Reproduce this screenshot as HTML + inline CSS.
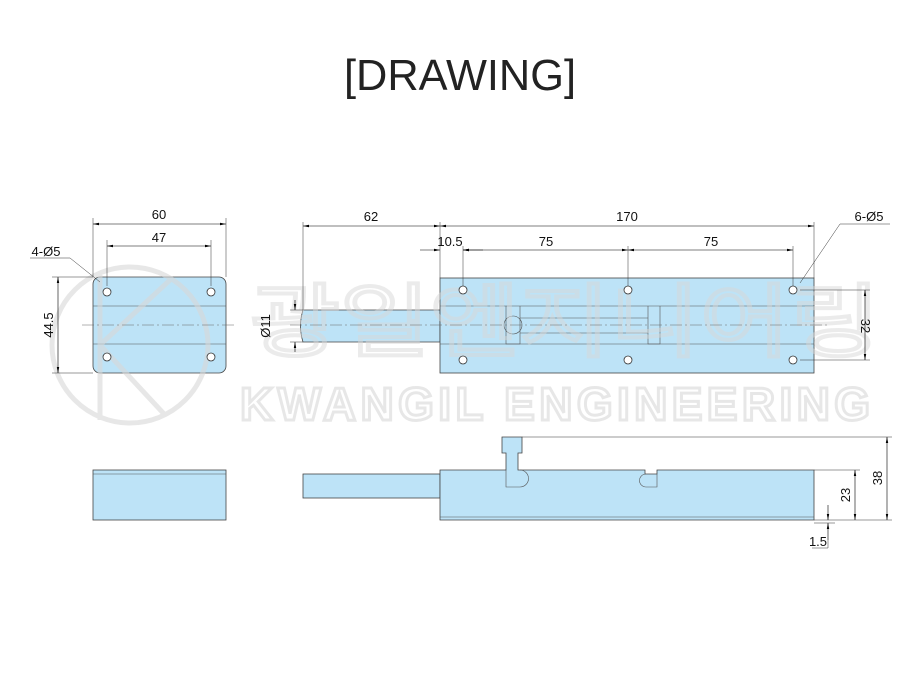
<!DOCTYPE html>
<html><head><style>body{margin:0;background:#fff}svg{display:block}</style></head><body>
<svg width="921" height="700" viewBox="0 0 921 700" xmlns="http://www.w3.org/2000/svg" font-family="Liberation Sans, sans-serif">
<defs><marker id="a" viewBox="0 0 10 6" refX="10" refY="3" markerWidth="10" markerHeight="6" orient="auto-start-reverse"><path d="M0,1 L10,3 L0,5z" fill="#000"/></marker></defs>
<text x="460" y="90" font-size="44" text-anchor="middle" fill="#222" textLength="232" lengthAdjust="spacingAndGlyphs">[DRAWING]</text>
<g stroke="#444" stroke-width="0.8" fill="#bde3f7">
<rect x="93" y="277" width="133" height="96" rx="7"/>
<path d="M303 310 H440 V342 H303 Q298 326 303 310z"/>
<rect x="440" y="278" width="374" height="95"/>
<rect x="93" y="470" width="133" height="50"/>
<rect x="303" y="474" width="137" height="24"/>
<path d="M440 470 H506 V453 H502 V437 H522 V453 H518 V470 H645 V474 H657 V470 H814 V520 H440z"/>
</g>
<g stroke="#555" stroke-width="0.6" fill="none">
<path d="M93 306H226M93 344H226M440 306H814M440 344H814M93 474H226M440 517H814"/>
<path d="M506 306V344H520V306M648 306V344H660V306M520 318H648V333H520"/>
<circle cx="513" cy="325" r="9"/>
<path d="M506 470V487H520M520 470a8.5 8.5 0 0 1 0 17M657 474V487H646M646 474a6.5 6.5 0 0 0 0 13"/>
</g>
<!-- watermark -->
<g fill="none" stroke="#d8d8d8" stroke-width="5" opacity="0.6">
<circle cx="130" cy="345" r="78"/>
<path d="M100 275 V420 M100 345 L170 280 M100 345 L165 415"/>
</g>
<text x="240" y="420" font-size="46" font-weight="bold" fill="none" stroke="#d8d8d8" stroke-width="3" opacity="0.6" textLength="630">KWANGIL ENGINEERING</text>
<text x="250" y="350" font-size="80" fill="none" stroke="#d8d8d8" stroke-width="4" opacity="0.5" font-family="Noto Sans CJK KR, sans-serif" textLength="630" lengthAdjust="spacingAndGlyphs">광일엔지니어링</text>
<g fill="#fff" stroke="#333" stroke-width="0.8">
<circle cx="107" cy="292" r="4"/><circle cx="211" cy="292" r="4"/><circle cx="107" cy="357" r="4"/><circle cx="211" cy="357" r="4"/>
<circle cx="463" cy="290" r="4"/><circle cx="628" cy="290" r="4"/><circle cx="793" cy="290" r="4"/>
<circle cx="463" cy="360" r="4"/><circle cx="628" cy="360" r="4"/><circle cx="793" cy="360" r="4"/>
</g>
<g stroke="#666" stroke-width="0.5" stroke-dasharray="12 3 2 3" fill="none">
<path d="M82 325H236M290 325H830"/>
</g>
<g stroke="#333" stroke-width="0.5" fill="none">
<path d="M93 277V218M226 277V218M107 286V240M211 286V240M93 277H52M93 373H52"/>
<path d="M303 310V222M440 278V222M814 278V222M463 286V246M628 286V246M793 286V246"/>
<path d="M800 290H870M800 360H870"/>
<path d="M522 437H892M814 470H860M814 520H892M814 523H835"/>
<path d="M70 258H30M70 258L100 282M840 224H890M840 224L800 283"/>
<path d="M303 310H290M303 342H290"/>
</g>
<g stroke="#000" stroke-width="0.6" fill="none" marker-start="url(#a)" marker-end="url(#a)">
<path d="M93 224H226"/><path d="M107 246H211"/><path d="M58 277V373"/>
<path d="M303 226H440"/><path d="M440 226H814"/>
<path d="M463 250H628"/><path d="M628 250H793"/>
<path d="M865 290V360"/><path d="M887 437V520"/><path d="M855 470V520"/>
</g>
<g stroke="#000" stroke-width="0.6" fill="none" marker-end="url(#a)">
<path d="M420 250H440"/><path d="M483 250H463"/>
<path d="M295 300V310"/><path d="M295 352V342"/>
<path d="M828 505V520"/><path d="M828 540V523"/>
</g>
<path d="M828 540V548H812" stroke="#333" stroke-width="0.5" fill="none"/>
<g font-size="13" fill="#111" text-anchor="middle">
<text x="159" y="219">60</text><text x="159" y="242">47</text>
<text x="46" y="256">4-Ø5</text>
<text transform="translate(53 325) rotate(-90)">44.5</text>
<text x="371" y="221">62</text><text x="627" y="221">170</text>
<text x="450" y="246">10.5</text><text x="546" y="246">75</text><text x="711" y="246">75</text>
<text x="869" y="221">6-Ø5</text>
<text transform="translate(270 326) rotate(-90)">Ø11</text>
<text transform="translate(861 326) rotate(90)">32</text>
<text transform="translate(882 478) rotate(-90)">38</text>
<text transform="translate(850 495) rotate(-90)">23</text>
<text x="818" y="546">1.5</text>
</g>
</svg>
</body></html>
